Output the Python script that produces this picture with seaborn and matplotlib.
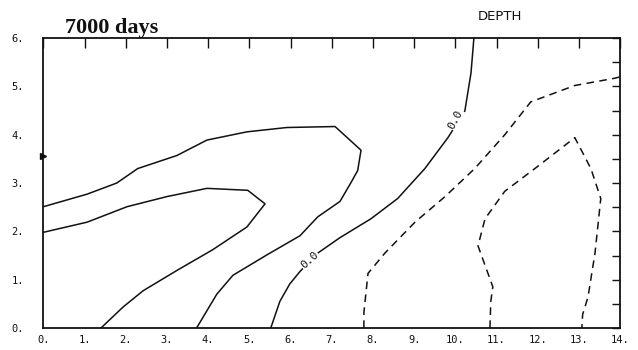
import matplotlib
matplotlib.use("Agg")
import matplotlib.pyplot as plt
import seaborn as sns
import pandas as pd

# Contour polylines (x, y) in data units
solid_outer_x = [0.0, 1.06, 1.78, 2.29, 3.24, 3.97, 4.94, 5.91, 7.08, 7.71, 7.63, 7.46, 7.20, 6.66, 6.23, 5.42, 4.60, 4.21, 3.72]
solid_outer_y = [2.51, 2.77, 3.00, 3.30, 3.57, 3.89, 4.06, 4.15, 4.17, 3.68, 3.26, 3.00, 2.62, 2.30, 1.91, 1.51, 1.09, 0.70, 0.0]

solid_inner_x = [0.0, 1.06, 2.03, 3.00, 3.97, 4.96, 5.38, 4.94, 4.11, 3.24, 2.42, 1.93, 1.40]
solid_inner_y = [1.98, 2.19, 2.51, 2.72, 2.89, 2.85, 2.57, 2.09, 1.62, 1.19, 0.77, 0.43, 0.0]

zero_x = [5.52, 5.74, 5.98, 6.23, 6.66, 7.20, 7.95, 8.60, 9.26, 9.82, 10.23, 10.38, 10.45]
zero_y = [0.0, 0.55, 0.91, 1.17, 1.55, 1.87, 2.26, 2.68, 3.30, 3.94, 4.49, 5.28, 6.0]

dashed_outer_x = [7.78, 7.78, 7.88, 8.29, 9.02, 9.75, 10.47, 11.20, 11.83, 12.90, 13.87, 14.0]
dashed_outer_y = [0.0, 0.32, 1.13, 1.55, 2.19, 2.72, 3.30, 4.00, 4.68, 5.02, 5.17, 5.20]

dashed_inner_x = [10.84, 10.86, 10.91, 10.55, 10.72, 11.20, 11.93, 12.90, 13.29, 13.53, 13.39, 13.22, 13.09, 13.07]
dashed_inner_y = [0.0, 0.55, 0.85, 1.70, 2.26, 2.83, 3.30, 3.94, 3.30, 2.68, 1.55, 0.64, 0.28, 0.0]

# Contour value labels: (x, y, rotation)
label_text = "0.0"
label_x = [6.47, 10.0]
label_y = [1.40, 4.32]
label_rot = [42, 62]

x_ticks = list(range(0, 15))
y_ticks = list(range(0, 7))
x_ticklabels = [f"{v}." for v in x_ticks]
y_ticklabels = [f"{v}." for v in y_ticks]

sns.set_style("white")
plt.rcParams["font.family"] = ["DejaVu Sans Mono"]

fig = plt.figure(figsize=(6.38, 3.5), dpi=100)
ax = fig.add_axes([0.068, 0.063, 0.904, 0.828])

ink = "#111111"
lines = [
    (solid_outer_x, solid_outer_y, "-"),
    (solid_inner_x, solid_inner_y, "-"),
    (zero_x, zero_y, "-"),
    (dashed_outer_x, dashed_outer_y, "--"),
    (dashed_inner_x, dashed_inner_y, "--"),
]
for xs, ys, ls in lines:
    df = pd.DataFrame({"x": xs, "y": ys})
    l = sns.lineplot(data=df, x="x", y="y", sort=False, estimator=None,
                     color=ink, lw=1.1, ax=ax)
    line = l.get_lines()[-1]
    if ls == "--":
        line.set_dashes((5, 3.5))

for lx, ly, rot in zip(label_x, label_y, label_rot):
    ax.text(lx, ly, label_text, rotation=rot, ha="center", va="center",
            fontsize=8, color=ink,
            bbox=dict(boxstyle="square,pad=0.05", fc="white", ec="none"))

# small marker on the left edge
ax.plot([0.0], [3.55], marker=">", ms=4, color=ink, clip_on=False)

ax.set_xlim(0, 14)
ax.set_ylim(0, 6)
ax.set_xlabel("")
ax.set_ylabel("")
ax.set_xticks(x_ticks)
ax.set_xticklabels(x_ticklabels)
ax.set_yticks(y_ticks)
ax.set_yticklabels(y_ticklabels)
ax.set_yticks([v + 0.5 for v in y_ticks[:-1]], minor=True)
ax.tick_params(axis="both", which="both", direction="in", color=ink,
               labelsize=7.5, labelcolor=ink, top=True, right=True,
               labeltop=False, labelright=False, width=1.0)
ax.tick_params(axis="x", which="major", length=7, pad=5)
ax.tick_params(axis="y", which="major", length=6, pad=14)
ax.tick_params(axis="y", which="minor", length=6)
for s in ax.spines.values():
    s.set_visible(True)
    s.set_color(ink)
    s.set_linewidth(1.3)

fig.text(0.102, 0.906, "7000 days", fontsize=16, fontweight="bold",
         family=["Liberation Serif"], color=ink, ha="left", va="baseline")
fig.text(0.749, 0.943, "DEPTH", fontsize=9.5, family=["DejaVu Sans"],
         color=ink, ha="left", va="baseline")

fig.savefig("out.png", dpi=100)
